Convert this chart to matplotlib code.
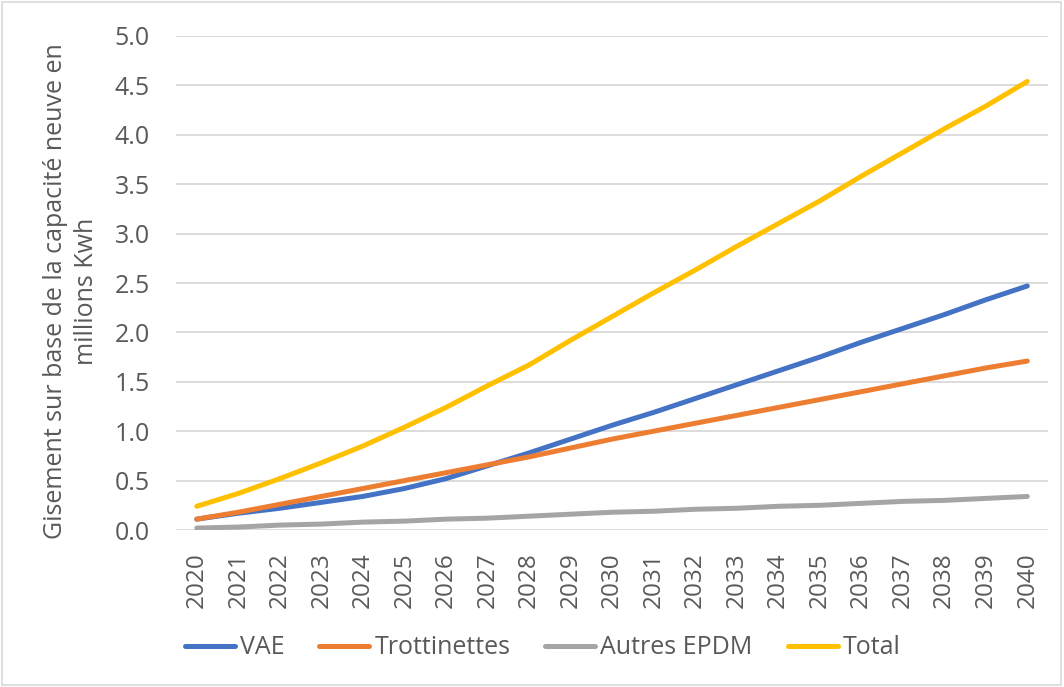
import numpy as np
import matplotlib.pyplot as plt
from matplotlib.patches import Rectangle

years = list(range(2020, 2041))
vae = [0.11, 0.17, 0.22, 0.28, 0.34, 0.42, 0.52, 0.65, 0.78, 0.92, 1.06,
       1.19, 1.33, 1.47, 1.61, 1.75, 1.90, 2.04, 2.18, 2.33, 2.47]
trottinettes = [0.11, 0.18, 0.26, 0.34, 0.42, 0.50, 0.58, 0.66, 0.74, 0.83, 0.92,
                1.00, 1.08, 1.16, 1.24, 1.32, 1.40, 1.48, 1.56, 1.64, 1.71]
autres = [0.02, 0.03, 0.05, 0.06, 0.08, 0.09, 0.11, 0.12, 0.14, 0.16, 0.18,
          0.19, 0.21, 0.22, 0.24, 0.25, 0.27, 0.29, 0.30, 0.32, 0.34]
total = [0.24, 0.37, 0.52, 0.68, 0.85, 1.04, 1.24, 1.46, 1.67, 1.92, 2.16,
         2.40, 2.63, 2.87, 3.10, 3.33, 3.58, 3.82, 4.06, 4.29, 4.54]

plt.rcParams['font.family'] = ['Open Sans', 'DejaVu Sans']
grey = '#595959'

fig = plt.figure(figsize=(10.64, 6.87), dpi=100)
ax = fig.add_axes([0.1654, 0.2285, 0.8196, 0.7191])

series = [
    ('VAE', vae, '#4472C4'),
    ('Trottinettes', trottinettes, '#ED7D31'),
    ('Autres EPDM', autres, '#A5A5A5'),
    ('Total', total, '#FFC000'),
]
for name, vals, col in series:
    ax.plot(years, vals, color=col, lw=3.6, solid_capstyle='round',
            solid_joinstyle='round', label=name)

ax.set_xlim(2019.5, 2040.5)
ax.set_ylim(0, 5)
ax.set_yticks(np.arange(0, 5.01, 0.5))
ax.set_yticklabels([f'{v:.1f}' for v in np.arange(0, 5.01, 0.5)])
ax.set_xticks(years)
ax.set_xticklabels([str(y) for y in years], rotation=90)
ax.tick_params(axis='both', length=0, colors=grey)
ax.tick_params(axis='y', pad=19, labelsize=18)
ax.tick_params(axis='x', pad=16, labelsize=17.5)
ax.grid(axis='y', color='#D9D9D9', lw=1.3)
ax.set_axisbelow(True)
for s in ax.spines.values():
    s.set_visible(False)

# titre de l'axe y, placé à la main
fig.text(0.0667, 0.576, 'Gisement sur base de la capacité neuve en\nmillions Kwh',
         rotation=90, ha='center', va='center', multialignment='center',
         fontsize=18, color=grey, linespacing=1.3)

fig.legend(loc='center', bbox_to_anchor=(0.51, 0.057), ncol=4, frameon=False,
           fontsize=18, handlelength=2.0, columnspacing=1.4, handletextpad=0.2,
           labelcolor=grey)

fig.add_artist(Rectangle((0.002, 0.003), 0.995, 0.994, transform=fig.transFigure,
                         fill=False, edgecolor='#D9D9D9', lw=1.2))

fig.savefig('out.png', dpi=100)
